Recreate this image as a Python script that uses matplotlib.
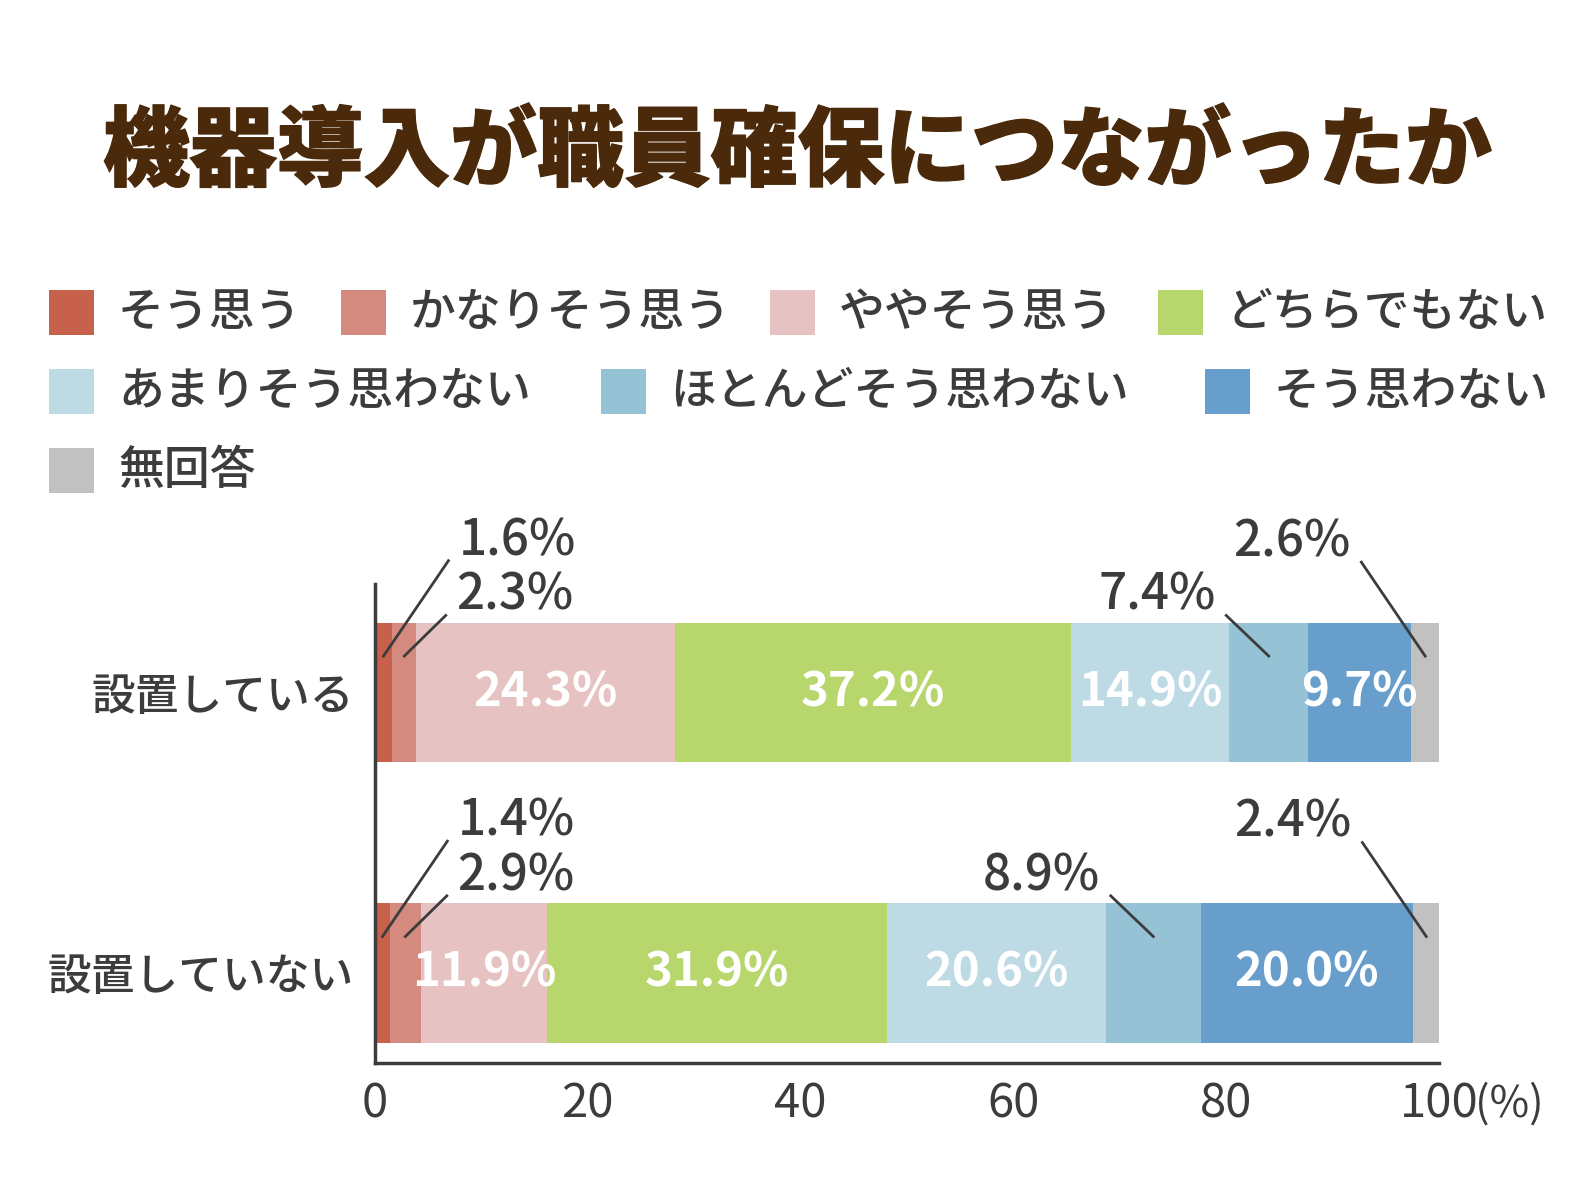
import numpy as np
import matplotlib.pyplot as plt
import matplotlib.patheffects as pe
from matplotlib.patches import Rectangle

plt.rcParams['font.family'] = ['Noto Sans CJK JP', 'DejaVu Sans']

title = "機器導入が職員確保につながったか"
groups = ["設置している", "設置していない"]
answers = ["そう思う", "かなりそう思う", "ややそう思う", "どちらでもない",
           "あまりそう思わない", "ほとんどそう思わない", "そう思わない", "無回答"]
installed = [1.6, 2.3, 24.3, 37.2, 14.9, 7.4, 9.7, 2.6]
not_installed = [1.4, 2.9, 11.9, 31.9, 20.6, 8.9, 20.0, 2.4]
xticks = [0, 20, 40, 60, 80, 100]

colors = ["#c8614c", "#d58a80", "#e6c3c2", "#b7d66b",
          "#bedae4", "#96c2d6", "#679ecc", "#c1c1c1"]
txt = "#3c3c3c"

# small segments labelled outside with a leader line: (dx, dy) of line start
outside = {0: (6.1, 0.34), 1: (3.9, 0.145), 5: (-4.0, 0.145), 7: (-6.0, 0.335)}

fig = plt.figure(figsize=(15.92, 11.94), dpi=100)
ax = fig.add_axes([375/1592, 1-1063/1194, (1439-375)/1592, (1063-584)/1194])

rows = [1, 0]
for y, vals in zip(rows, [installed, not_installed]):
    vals = np.array(vals)
    left = np.concatenate([[0], np.cumsum(vals)[:-1]])
    ax.barh(y, vals, left=left, height=0.496, color=colors, linewidth=0)
    for i, (v, l) in enumerate(zip(vals, left)):
        cx = l + v / 2
        if i in outside:
            dx, dy = outside[i]
            y0 = y + 0.13
            ax.plot([cx, cx + dx], [y0, y0 + dy], color=txt, lw=2, clip_on=False)
            tx = cx + dx + (6.5 if dx > 0 else -6.5)
            ax.text(tx, y0 + dy + 0.07, f"{v:.1f}%", ha='center', va='center',
                    fontsize=35.5, color=txt, fontweight='medium')
        else:
            ax.text(cx, y, f"{v:.1f}%", ha='center', va='center',
                    fontsize=34, color='white', fontweight='bold')

ax.set_xlim(0, 100)
ax.set_ylim(-0.321, 1.387)
ax.set_xticks(xticks)
ax.set_xticklabels([str(t) for t in xticks])
ax.set_yticks(rows)
ax.set_yticklabels(groups, fontweight='medium')
ax.tick_params(axis='x', length=0, pad=12, labelsize=34, labelcolor=txt)
ax.tick_params(axis='y', length=0, pad=15, labelsize=31.5, labelcolor=txt)
for s in ['top', 'right']:
    ax.spines[s].set_visible(False)
for s in ['left', 'bottom']:
    ax.spines[s].set_color(txt)
    ax.spines[s].set_linewidth(2.5)
ax.annotate("(%)", xy=(100, -0.321), xytext=(26, -14), textcoords='offset points',
            ha='left', va='top', fontsize=31, color=txt, annotation_clip=False)

fig.text(797/1592, 1-153/1194, title, ha='center', va='center',
         fontsize=62.5, fontweight='black', color="#4a2a0b",
         path_effects=[pe.withStroke(linewidth=1.0, foreground="#4a2a0b")])

# legend laid out by hand like the original
leg_pos = [(49, 312), (341, 312), (770, 312), (1158, 312),
           (49, 391), (601, 391), (1205, 391), (49, 470)]
for (px, py), name, c in zip(leg_pos, answers, colors):
    fig.patches.append(Rectangle((px/1592, 1-(py+22.5)/1194), 45/1592, 45/1194,
                                 transform=fig.transFigure, color=c, lw=0))
    fig.text((px+69)/1592, 1-py/1194, name, ha='left', va='center',
             fontsize=33, color=txt, fontweight='medium')

fig.savefig("out.png", dpi=100)
